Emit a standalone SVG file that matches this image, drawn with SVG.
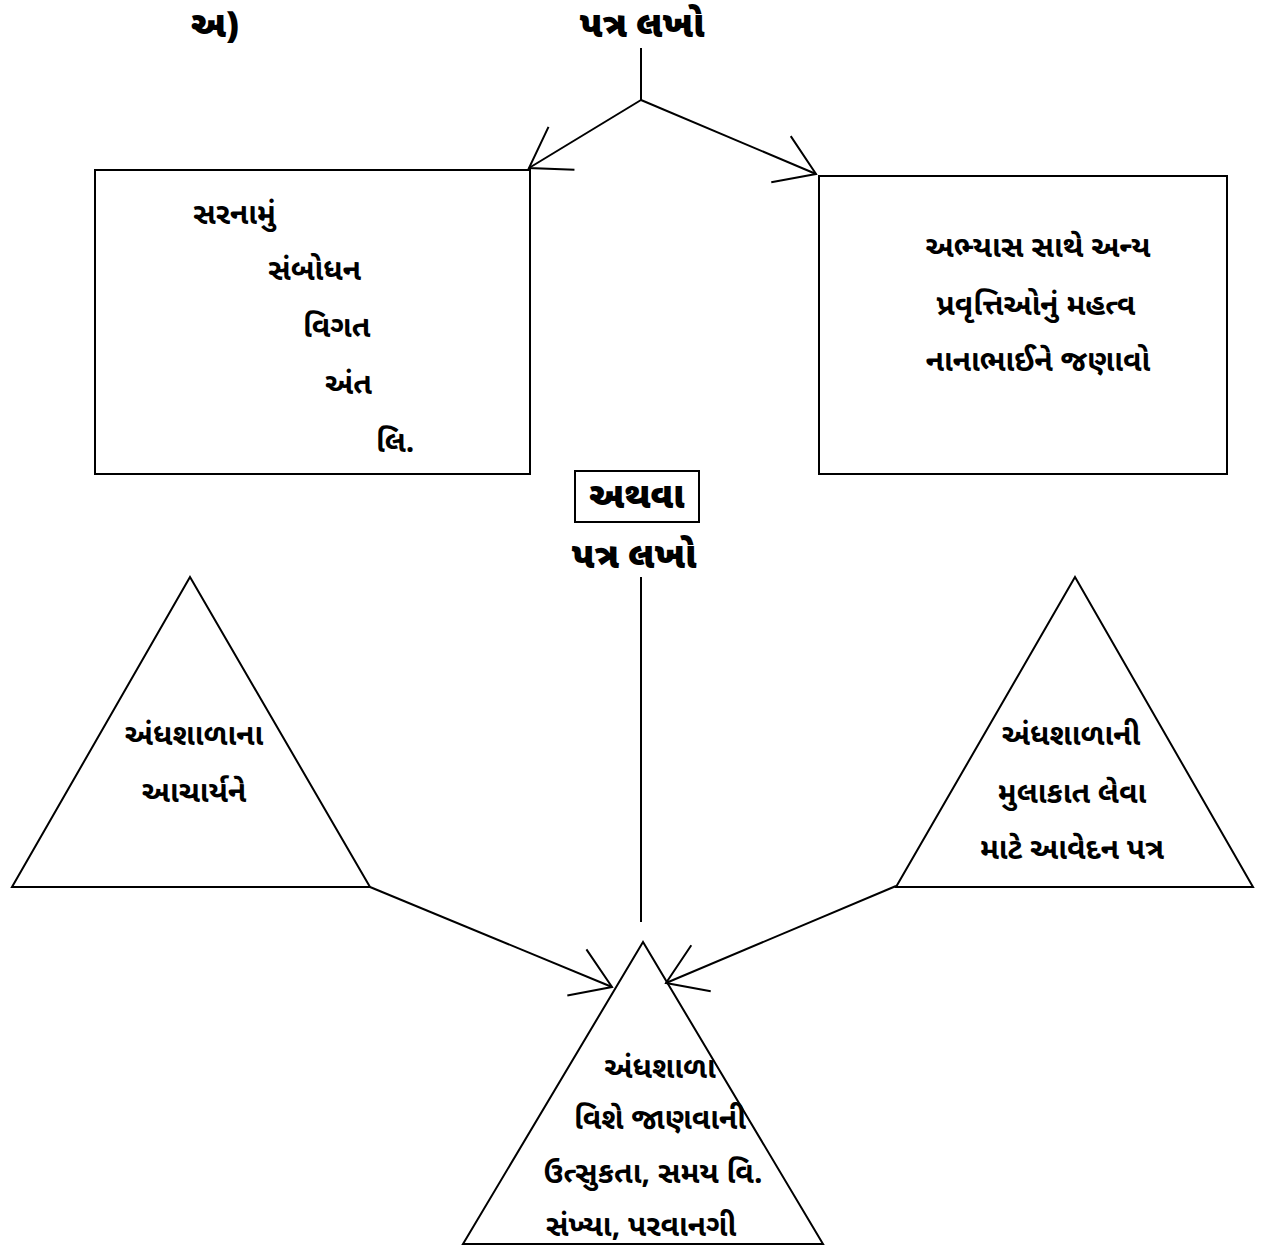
<svg xmlns="http://www.w3.org/2000/svg" width="1268" height="1255" viewBox="0 0 1268 1255">
<style>
text{font-family:"Noto Sans Gujarati","Noto Sans","DejaVu Sans",sans-serif;fill:#000}
.b{font-size:30px;font-weight:bold}
.h{font-size:36px;font-weight:900}
.c{text-anchor:middle}
.s{fill:none;stroke:#000;stroke-width:2}
.w{fill:#fff;stroke:#000;stroke-width:2}
</style>
<defs>
<marker id="ah" markerUnits="userSpaceOnUse" viewBox="-50 -30 55 60" refX="0" refY="0" markerWidth="55" markerHeight="60" orient="auto">
<path d="M -38 -25 L 0 0 L -38 25" fill="none" stroke="#000" stroke-width="2"/>
</marker>
</defs>
<rect width="1268" height="1255" fill="#fff"/>
<g id="label-a"><text class="h" x="215" y="37" text-anchor="middle">અ)</text></g>
<g id="title1"><text class="h c" x="642" y="37">પત્ર લખો</text></g>
<g id="box-left">
<rect class="w" x="95" y="170" width="435" height="304"/>
<text class="b" x="193" y="224">સરનામું</text>
<text class="b" x="268" y="280">સંબોધન</text>
<text class="b" x="303" y="337">વિગત</text>
<text class="b" x="325" y="394">અંત</text>
<text class="b" x="376" y="452">લિ.</text>
</g>
<g id="box-right">
<rect class="w" x="819" y="176" width="408" height="298"/>
<text class="b c" x="1038" y="257">અભ્યાસ સાથે અન્ય</text>
<text class="b c" x="1036" y="315">પ્રવૃત્તિઓનું મહત્વ</text>
<text class="b c" x="1038" y="371">નાનાભાઈને જણાવો</text>
</g>
<g id="or-box">
<rect class="w" x="575" y="471" width="124" height="51"/>
<text class="h c" x="637" y="508">અથવા</text>
</g>
<g id="title2"><text class="h c" x="634" y="568">પત્ર લખો</text></g>
<g id="tri-left">
<polygon class="w" points="190,577 12,887 370,887"/>
<text class="b c" x="194" y="745">અંધશાળાના</text>
<text class="b c" x="194" y="802">આચાર્યને</text>
</g>
<g id="tri-right">
<polygon class="w" points="1075,577 896,887 1253,887"/>
<text class="b c" x="1071" y="745">અંધશાળાની</text>
<text class="b c" x="1072" y="803">મુલાકાત લેવા</text>
<text class="b c" x="1072" y="859">માટે આવેદન પત્ર</text>
</g>
<g id="tri-bottom">
<polygon class="w" points="643,942 463,1244 823,1244"/>
<text class="b c" x="660" y="1078">અંધશાળા</text>
<text class="b c" x="660" y="1129">વિશે જાણવાની</text>
<text class="b c" x="653" y="1183">ઉત્સુકતા, સમય વિ.</text>
<text class="b c" x="641" y="1236">સંખ્યા, પરવાનગી</text>
</g>
<g id="connectors">
<path class="s" d="M641 48 V100"/>
<path class="s" d="M641 100 L529 168" marker-end="url(#ah)"/>
<path class="s" d="M641 100 L816 174" marker-end="url(#ah)"/>
<path class="s" d="M641 577 V922"/>
<path class="s" d="M370 887 L612 987" marker-end="url(#ah)"/>
<path class="s" d="M896 886 L666 983" marker-end="url(#ah)"/>
</g>
</svg>
